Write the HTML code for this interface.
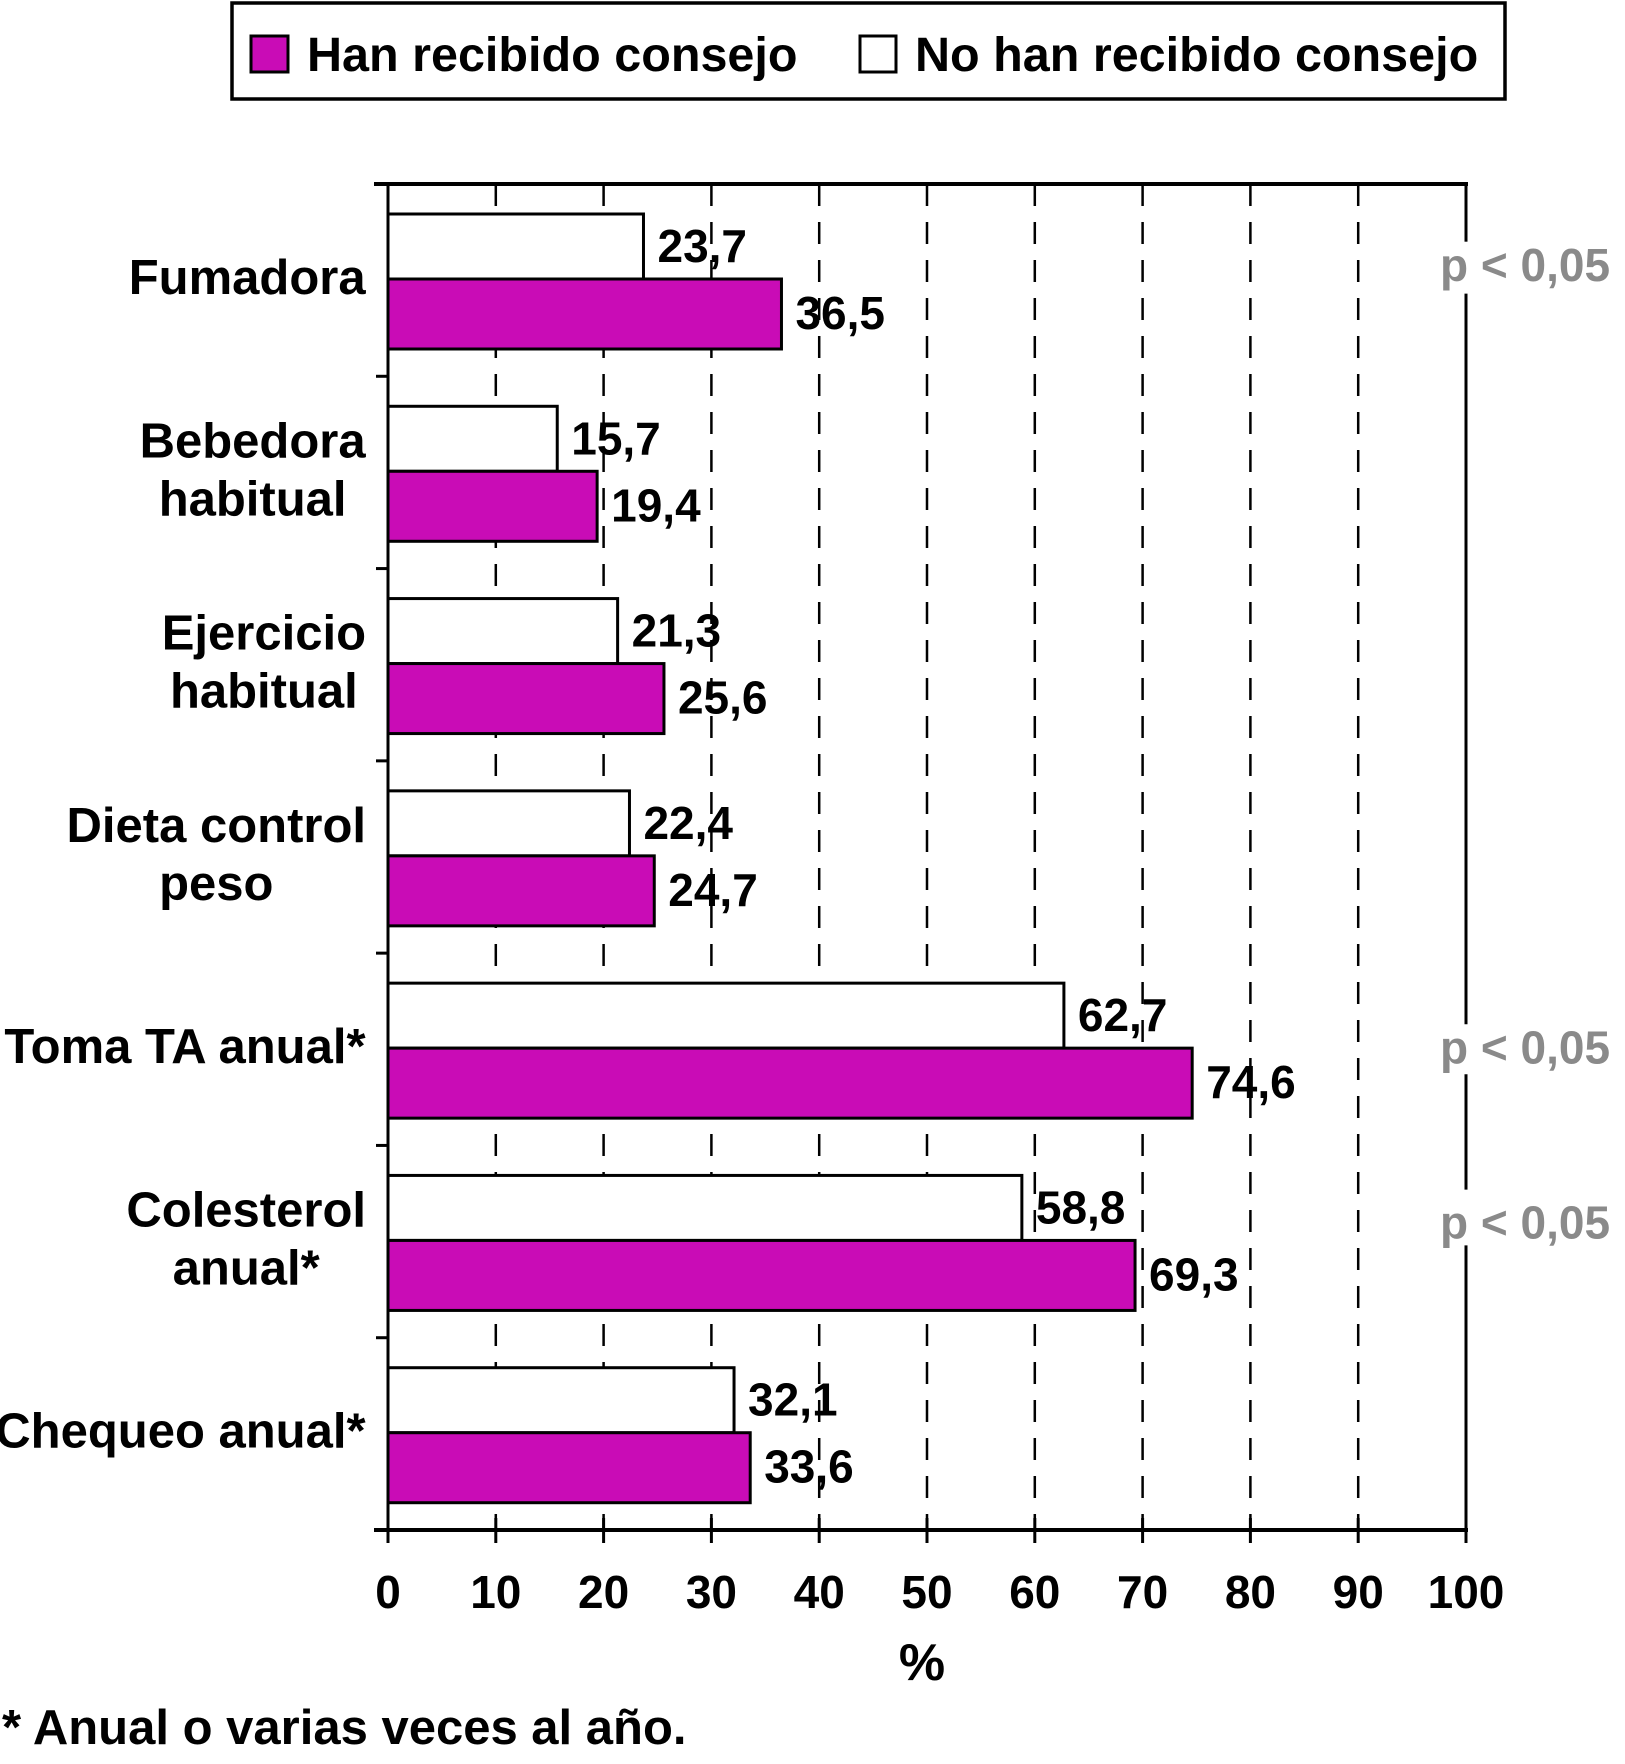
<!DOCTYPE html>
<html><head><meta charset="utf-8">
<style>
html,body{margin:0;padding:0;background:#fff;}
svg{display:block;font-family:"Liberation Sans",Arial,sans-serif;font-weight:bold;}
</style></head>
<body>
<svg id="chart" width="1625" height="1764" viewBox="0 0 1625 1764" xmlns="http://www.w3.org/2000/svg">
  <g>
    <rect x="232" y="3" width="1273" height="96" fill="#fff" stroke="#000" stroke-width="3.5"/>
    <rect x="251" y="36" width="37" height="36" fill="#C90CB6" stroke="#000" stroke-width="3"/>
    <text x="307" y="71" font-size="48.5">Han recibido consejo</text>
    <rect x="860" y="36" width="36" height="36" fill="#fff" stroke="#000" stroke-width="3"/>
    <text x="915" y="71" font-size="48.5">No han recibido consejo</text>
  </g>
  <g id="grid"></g>
  <g id="bars"></g>
  <g id="axes"></g>
  <text x="922" y="1680" font-size="52" text-anchor="middle">%</text>
  <text x="2" y="1744" font-size="49">* Anual o varias veces al año.</text>
</svg>
<script>
const categories = [["Fumadora"],["Bebedora","habitual"],["Ejercicio","habitual"],["Dieta control","peso"],["Toma TA anual*"],["Colesterol","anual*"],["Chequeo anual*"]];
const notReceived = [23.7, 15.7, 21.3, 22.4, 62.7, 58.8, 32.1];
const received = [36.5, 19.4, 25.6, 24.7, 74.6, 69.3, 33.6];
const xTicks = [0,10,20,30,40,50,60,70,80,90,100];
const pLabels = ["p < 0,05","p < 0,05","p < 0,05"];
const pCenters = [0.42, 4.49, 5.40];

const NS = "http://www.w3.org/2000/svg";
const X0 = 388, X1 = 1466, Y0 = 184, Y1 = 1530;
const band = (Y1 - Y0) / categories.length;
const xs = v => X0 + (X1 - X0) * v / 100;
const yb = i => Y0 + band * i;
function mk(tag, attrs, parent){ const e = document.createElementNS(NS, tag); for (const k in attrs) e.setAttribute(k, attrs[k]); parent.appendChild(e); return e; }
const gridG = document.getElementById('grid'), barsG = document.getElementById('bars'), axesG = document.getElementById('axes');

xTicks.forEach(t => {
  if (t > 0 && t < 100) {
    const l = mk('line', {x1: xs(t), x2: xs(t), y1: Y0, y2: Y1, stroke: '#000', 'stroke-width': 2.5, 'stroke-dasharray': '22 16'}, gridG);
    
    
  }
  const tk = mk('line', {x1: xs(t), x2: xs(t), y1: Y1 - 12, y2: Y1 + 13, stroke: '#000', 'stroke-width': 3}, axesG);
  
  
  const tx = mk('text', {x: xs(t), y: 1608, 'font-size': 46, 'text-anchor': 'middle'}, axesG);
  tx.textContent = t;
  
  
});

[[Y0, yb(0.3)], [yb(0.57), yb(4.37)], [yb(4.63), yb(5.23)], [yb(5.52), Y1]].forEach(s => {
  const l = mk('line', {x1: X1, x2: X1, y1: s[0], y2: s[1], stroke: '#000', 'stroke-width': 3}, axesG);
  
  
});
const topBorder = mk('line', {x1: X0 - 14, x2: X1 + 2, y1: Y0, y2: Y0, stroke: '#000', 'stroke-width': 4}, axesG);


const xAxisLine = mk('line', {x1: X0 - 14, x2: X1 + 2, y1: Y1, y2: Y1, stroke: '#000', 'stroke-width': 4}, axesG);


const yAxisLine = mk('line', {x1: X0, x2: X0, y1: Y0, y2: Y1 + 13, stroke: '#000', 'stroke-width': 3}, axesG);



categories.forEach((lines, i) => {
  const b = yb(i);
  const yt = mk('line', {x1: X0 - 12, x2: X0, y1: b, y2: b, stroke: '#000', 'stroke-width': 3}, axesG);
  
  
  const w = mk('rect', {x: X0, y: b + 30, width: xs(notReceived[i]) - X0, height: 65, fill: '#fff', stroke: '#000', 'stroke-width': 3}, barsG);
  
  
  const m = mk('rect', {x: X0, y: b + 95, width: xs(received[i]) - X0, height: 70, fill: '#C90CB6', stroke: '#000', 'stroke-width': 3}, barsG);
  
  
  const lw = mk('text', {x: xs(notReceived[i]) + 14, y: b + 78, 'font-size': 46}, barsG);
  lw.textContent = notReceived[i].toFixed(1).replace('.', ',');
  
  
  const lm = mk('text', {x: xs(received[i]) + 14, y: b + 145, 'font-size': 46}, barsG);
  lm.textContent = received[i].toFixed(1).replace('.', ',');
  
  
  const cx = 366;
  const t = mk('text', {'font-size': 49, 'text-anchor': 'middle'}, axesG);
  
  
  const n = lines.length;
  const startY = b + 94 - (n - 1) * 29 + 16;
  lines.forEach((s, j) => {
    const sp = mk('tspan', {x: 0, y: startY + j * 58}, t);
    sp.textContent = s;
  });
  let bw = 0;
  try { bw = t.getBBox().width; } catch (e) { bw = 0; }
  if (!bw) bw = Math.max(...lines.map(s => s.length)) * 27;
  t.querySelectorAll('tspan').forEach(sp => sp.setAttribute('x', cx - bw / 2));
});

pLabels.forEach((p, i) => {
  const t = mk('text', {x: 1525, y: yb(pCenters[i]) + 16, 'font-size': 46, 'text-anchor': 'middle', fill: '#8a8a8a'}, axesG);
  t.textContent = p;
  
  
});
</script>
</body></html>
